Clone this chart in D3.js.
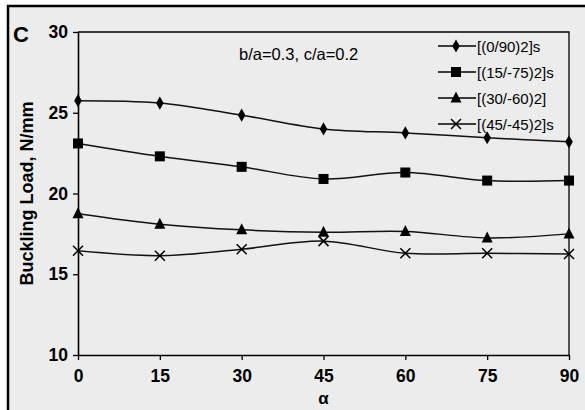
<!DOCTYPE html>
<html>
<head>
<meta charset="utf-8">
<script src="https://cdn.jsdelivr.net/npm/d3@7"></script>
<style>
  body { margin: 0; background: #fff; }
  svg { display: block; font-family: "Liberation Sans", Arial, sans-serif; }
</style>
</head>
<body>
<svg id="chart" width="585" height="410"></svg>
<script>
const ANGLES = [0, 15, 30, 45, 60, 75, 90];
const S_0_90 = [25.75, 25.6, 24.85, 24.0, 23.75, 23.45, 23.2];
const S_15_75 = [23.1, 22.3, 21.65, 20.9, 21.3, 20.8, 20.8];
const S_30_60 = [18.75, 18.1, 17.75, 17.6, 17.65, 17.25, 17.5];
const S_45_45 = [16.45, 16.15, 16.55, 17.05, 16.3, 16.3, 16.25];
const SERIES_NAMES = ["[(0/90)2]s", "[(15/-75)2]s", "[(30/-60)2]", "[(45/-45)2]s"];
const Y_TICKS = [10, 15, 20, 25, 30];

const series = [
    { name: SERIES_NAMES[0], values: S_0_90, marker: "diamond" },
    { name: SERIES_NAMES[1], values: S_15_75, marker: "square" },
    { name: SERIES_NAMES[2], values: S_30_60, marker: "triangle" },
    { name: SERIES_NAMES[3], values: S_45_45, marker: "cross" }
];

const SVG = d3.select("#chart");

// outer frame + grey background
SVG.append("rect")
    .attr("x", 8).attr("y", 6)
    .attr("width", 585).attr("height", 410)
    .attr("fill", "#ececec")
    .attr("stroke", "#000")
    .attr("stroke-width", 2.5);

const x = d3.scaleLinear().domain([0, 90]).range([78, 569]);
const y = d3.scaleLinear().domain([10, 30]).range([355, 32]);

// plot box (top + right)
SVG.append("path")
    .attr("d", `M${x(0)},${y(30)}H${x(90)}V${y(10)}`)
    .attr("fill", "none")
    .attr("stroke", "#000")
    .attr("stroke-width", 1.3);

const xAxis = SVG.append("g")
    .attr("transform", `translate(0,${y(10)})`)
    .call(d3.axisBottom(x).tickValues(ANGLES).tickSize(5).tickSizeOuter(0));
const yAxis = SVG.append("g")
    .attr("transform", `translate(${x(0)},0)`)
    .call(d3.axisLeft(y).tickValues(Y_TICKS).tickSize(5).tickSizeOuter(0));

[xAxis, yAxis].forEach(a => {
    a.select(".domain").attr("stroke", "#000").attr("stroke-width", 1.6);
    a.selectAll(".tick line").attr("stroke", "#000").attr("stroke-width", 1.3);
    a.selectAll("text")
        .attr("fill", "#000")
        .style("font-size", "17.5px")
        .style("font-weight", "bold")
        .style("font-family", "'Liberation Sans', Arial, sans-serif");
});
xAxis.selectAll("text").attr("y", 15);
yAxis.selectAll("text").attr("x", -10);

// axis titles
SVG.append("text")
    .attr("x", x(45)).attr("y", 404)
    .attr("text-anchor", "middle")
    .style("font-size", "17px")
    .style("font-weight", "bold")
    .text("α");
SVG.append("text")
    .attr("transform", `translate(33,${y(20)}) rotate(-90)`)
    .attr("text-anchor", "middle")
    .style("font-size", "18px")
    .style("font-weight", "bold")
    .text("Buckling Load, N/mm");

SVG.append("text")
    .attr("x", 13).attr("y", 42)
    .style("font-size", "22px")
    .style("font-weight", "bold")
    .text("C");

SVG.append("text")
    .attr("x", 239).attr("y", 60)
    .style("font-size", "16.5px")
    .text("b/a=0.3, c/a=0.2");

const line = d3.line()
    .x((d, i) => x(ANGLES[i]))
    .y(d => y(d))
    .curve(d3.curveCatmullRom.alpha(0.5));

function drawMarker(g, type, cx, cy) {
    if (type === "diamond") {
        g.append("path")
            .attr("d", d3.symbol(d3.symbolDiamond, 50)())
            .attr("transform", `translate(${cx},${cy})`)
            .attr("fill", "#000");
    } else if (type === "square") {
        g.append("rect")
            .attr("x", cx - 5).attr("y", cy - 5)
            .attr("width", 10).attr("height", 10)
            .attr("fill", "#000");
    } else if (type === "triangle") {
        g.append("path")
            .attr("d", `M${cx},${cy - 6.5}L${cx + 5.5},${cy + 4.5}L${cx - 5.5},${cy + 4.5}Z`)
            .attr("fill", "#000");
    } else {
        g.append("path")
            .attr("d", `M${cx - 5},${cy - 5}L${cx + 5},${cy + 5}M${cx - 5},${cy + 5}L${cx + 5},${cy - 5}`)
            .attr("stroke", "#000")
            .attr("stroke-width", 1.5);
    }
}

series.forEach(s => {
    SVG.append("path")
        .datum(s.values)
        .attr("d", line)
        .attr("fill", "none")
        .attr("stroke", "#111")
        .attr("stroke-width", 1.5);
    const g = SVG.append("g");
    s.values.forEach((v, i) => drawMarker(g, s.marker, x(ANGLES[i]), y(v)));
});

// legend
const legend = SVG.append("g");
series.forEach((s, i) => {
    const ly = 46 + i * 26;
    legend.append("line")
        .attr("x1", 438).attr("x2", 476)
        .attr("y1", ly).attr("y2", ly)
        .attr("stroke", "#000").attr("stroke-width", 1.5);
    drawMarker(legend, s.marker, 456, ly);
    legend.append("text")
        .attr("x", 477).attr("y", ly + 5.5)
        .style("font-size", "15px")
        .text(s.name);
});
</script>
</body>
</html>
